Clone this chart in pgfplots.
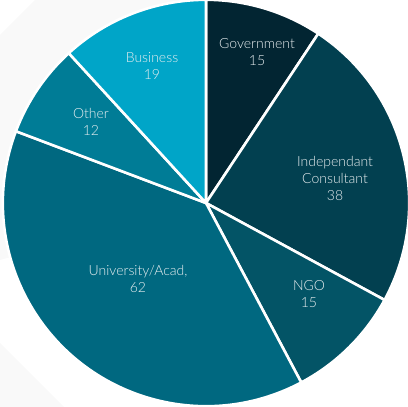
\documentclass[border=0pt]{standalone}
\usepackage{fontspec}
\setmainfont{Lato}[UprightFont=* Light]
\usepackage{pgfplots}
\pgfplotsset{compat=1.18}
\usepackage{pgfplotstable}

\definecolor{cGov}{RGB}{2,37,50}
\definecolor{cInd}{RGB}{2,64,80}
\definecolor{cNGO}{RGB}{3,84,102}
\definecolor{cUni}{RGB}{0,104,128}
\definecolor{cOth}{RGB}{0,124,150}
\definecolor{cBus}{RGB}{0,165,200}
\definecolor{bgc}{RGB}{249,249,249}
\definecolor{txt}{RGB}{232,238,240}

% values of the pie, clockwise from the top
\pgfplotstableread[col sep=comma]{
value,color
15,cGov
38,cInd
15,cNGO
62,cUni
12,cOth
19,cBus
}\piedata

% total
\def\total{0}
\foreach \i in {0,...,5}{%
  \pgfplotstablegetelem{\i}{value}\of\piedata
  \pgfmathsetmacro\t{\total+\pgfplotsretval}%
  \xdef\total{\t}%
}
% start / end angles
\def\cum{0}
\foreach \i in {0,...,5}{%
  \pgfplotstablegetelem{\i}{value}\of\piedata
  \let\v\pgfplotsretval
  \pgfmathsetmacro\sa{90-(\cum/\total)*360}%
  \pgfmathsetmacro\ea{90-((\cum+\v)/\total)*360}%
  \pgfmathsetmacro\cc{\cum+\v}%
  \xdef\cum{\cc}%
  \expandafter\xdef\csname sa\i\endcsname{\sa}%
  \expandafter\xdef\csname ea\i\endcsname{\ea}%
  \pgfplotstablegetelem{\i}{color}\of\piedata
  \expandafter\xdef\csname col\i\endcsname{\pgfplotsretval}%
}

\begin{document}
\begin{tikzpicture}
\begin{axis}[
  x=1pt, y=1pt,
  xmin=0, xmax=408, ymin=0, ymax=407,
  axis line style={draw=none},
  xtick=\empty, ytick=\empty,
  clip=true,
]
% faint background shapes
\fill[bgc] (axis cs:0,372) -- (axis cs:35,407) -- (axis cs:206,407) -- (axis cs:206,204) -- (axis cs:0,147) -- cycle;
\fill[bgc] (axis cs:0,64) -- (axis cs:0,0) -- (axis cs:64,0) -- cycle;
% slices
\pgfplotsinvokeforeach{0,...,5}{
  \fill[\csname col#1\endcsname, draw=white, line width=2.6pt, line join=round]
    (axis cs:206,204) -- ++(\csname sa#1\endcsname:203.2pt)
    arc[start angle=\csname sa#1\endcsname, end angle=\csname ea#1\endcsname, radius=203.2pt] -- cycle;
}
% labels
\begin{scope}[every node/.style={text=txt, font=\fontsize{14}{17}\selectfont, align=center, inner sep=0pt}]
\node at (axis cs:257,355) {Government\\15};
\node at (axis cs:335,229) {Independant\\Consultant\\38};
\node at (axis cs:309,113) {NGO\\15};
\node at (axis cs:138,128) {University/Acad,\\62};
\node at (axis cs:91,285) {Other\\12};
\node at (axis cs:152,341) {Business\\19};
\end{scope}
\end{axis}
\end{tikzpicture}
\end{document}
